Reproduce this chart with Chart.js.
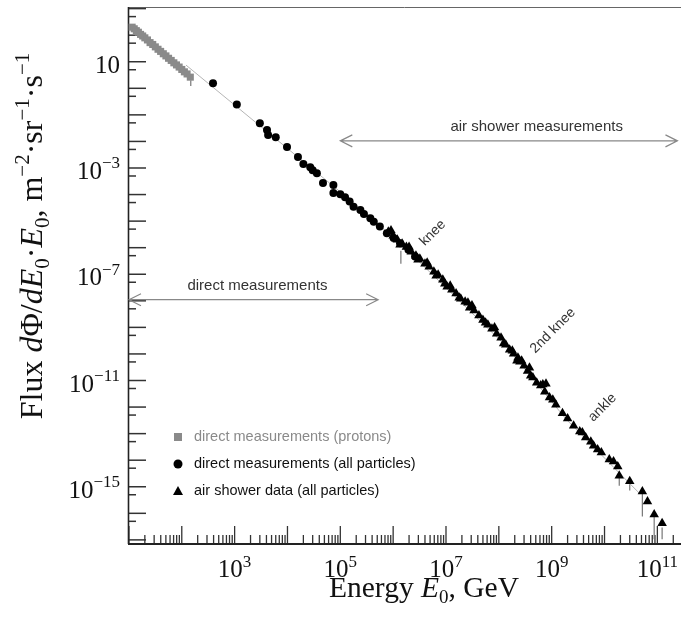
<!DOCTYPE html>
<html>
<head>
<meta charset="utf-8">
<script src="https://cdn.jsdelivr.net/npm/chart.js@4.4.1/dist/chart.umd.min.js"></script>
<style>
html, body { margin: 0; padding: 0; background: #fff; }
#wrap { width: 681px; height: 618px; }
</style>
</head>
<body>
<div id="wrap"><canvas id="fluxChart" width="681" height="618"></canvas></div>
<script>
// energy in GeV, flux in m^-2 sr^-1 s^-1
const protonE = [11.5, 12.6, 13.8, 15.1, 16.6, 18.2, 20, 22.4, 25.1, 28.2, 31.6, 35.5,
    39.8, 44.7, 50.1, 56.2, 63.1, 70.8, 79.4, 89.1, 100, 112, 126, 145];
const protonFlux = [200, 174, 148, 129, 107, 93.3, 79.4, 66.1, 52.5, 44.7, 36.3, 29.5,
    24.5, 20.0, 16.6, 13.5, 11.2, 9.12, 7.59, 6.31, 5.13, 4.17, 3.47, 2.63];

const directE = [390, 1.1e3, 3.0e3, 4.1e3, 4.3e3, 6.0e3, 9.8e3, 1.58e4, 2.0e4, 2.7e4,
    3.0e4, 3.6e4, 4.7e4, 7.4e4, 7.4e4, 1.0e5, 1.23e5, 1.5e5, 1.78e5, 2.4e5,
    2.8e5, 3.7e5, 4.3e5, 5.6e5, 7.6e5, 1.02e6, 1.35e6, 1.95e6, 2.6e6];
const directFlux = [1.55, 0.245, 4.8e-2, 2.7e-2, 1.74e-2, 1.45e-2, 6.2e-3, 2.6e-3, 1.41e-3, 1.07e-3,
    8.3e-4, 6.3e-4, 2.75e-4, 2.3e-4, 1.15e-4, 1.02e-4, 7.9e-5, 5.5e-5, 3.5e-5, 2.6e-5,
    1.86e-5, 1.29e-5, 9.5e-6, 6.3e-6, 3.5e-6, 2.3e-6, 1.48e-6, 8.3e-7, 4.7e-7];

const showerE = [8.1e5, 1.0e6, 1.2e6, 1.48e6, 1.78e6, 2.2e6, 2.7e6, 3.2e6, 4.0e6, 4.8e6,
    5.9e6, 7.1e6, 8.7e6, 1.05e7, 1.29e7, 1.55e7, 1.9e7, 2.3e7, 2.8e7, 3.4e7,
    4.2e7, 5.0e7, 6.2e7, 7.4e7, 9.1e7, 1.1e8, 1.35e8, 1.6e8, 1.9e8, 2.3e8,
    2.5e8, 3.0e8, 3.5e8, 4.4e8, 5.2e8, 6.2e8, 7.4e8, 9.1e8, 1.2e9, 1.6e9,
    2.0e9, 2.6e9, 3.4e9, 4.4e9, 5.5e9, 7.4e9, 8.7e9, 1.23e10, 1.78e10, 1.9e10,
    3.0e10, 5.2e10, 6.5e10, 8.7e10, 1.23e11,
    1.8e8, 2.2e8, 3.8e8, 7.8e8, 9.5e6, 2.6e7,
    9.1e5, 1.35e6, 2.0e6, 2.95e6, 4.4e6, 6.5e6, 1.2e7, 1.78e7, 3.1e7, 5.6e7,
    8.3e7, 1.23e8, 2.7e8, 4.0e8, 6.8e8, 1.05e9, 3.8e9, 6.2e9, 1.48e10];
const showerFlux = [4.0e-6, 2.8e-6, 2.0e-6, 1.4e-6, 1.07e-6, 7.1e-7, 5.0e-7, 3.8e-7, 2.5e-7, 1.9e-7,
    1.23e-7, 9.5e-8, 6.2e-8, 3.4e-8, 2.6e-8, 1.9e-8, 1.2e-8, 9.3e-9, 5.5e-9, 4.3e-9,
    2.8e-9, 1.9e-9, 1.26e-9, 8.9e-10, 5.8e-10, 4.1e-10, 2.2e-10, 1.45e-10, 1.02e-10, 7.2e-11,
    5.1e-11, 3.6e-11, 2.3e-11, 1.29e-11, 8.3e-12, 6.5e-12, 3.8e-12, 2.3e-12, 1.23e-12, 5.8e-13,
    3.7e-13, 2.0e-13, 1.2e-13, 7.1e-14, 5.0e-14, 2.5e-14, 1.95e-14, 1.07e-14, 5.8e-15, 2.6e-15,
    1.6e-15, 6.6e-16, 2.8e-16, 9.1e-17, 4.2e-17,
    1.32e-10, 5.6e-11, 3.0e-11, 7.6e-12, 4.4e-8, 8.5e-9,
    4.4e-6, 1.29e-6, 1.07e-6, 3.5e-7, 2.7e-7, 8.7e-8, 3.7e-8, 1.3e-8, 6.6e-9, 1.5e-9,
    9.8e-10, 2.45e-10, 5.6e-11, 1.5e-11, 7.1e-12, 1.9e-12, 1.1e-13, 3.5e-14, 8.9e-15];

// thin guide line through the spectrum
const fitE = [120, 1.0e5, 1.35e6, 1.3e8, 1.9e9, 4.6e10];
const fitFlux = [7.5, 1.26e-4, 1.48e-6, 2.2e-10, 3.4e-13, 5.6e-16];

// error bars
const errE = [148, 1.4e6, 1.9e10, 3.0e10, 5.2e10, 8.7e10, 1.23e11];
const errHigh = [2.0, 7.6e-7, 2.2e-15, 1.23e-15, 6.6e-16, 9.1e-17, 2.95e-17];
const errLow = [1.22, 2.5e-7, 1.1e-15, 7.2e-16, 7.6e-17, 1.05e-17, 1.05e-17];

// tick labels (powers of ten)
const xLabelExps = [3, 5, 7, 9, 11];
const yLabelExps = [1, -3, -7, -11, -15];

const legendItems = ['direct measurements (protons)', 'direct measurements (all particles)', 'air shower data (all particles)'];

const SERIF = '"Liberation Serif", "Times New Roman", serif';
const SANS = '"Liberation Sans", Arial, sans-serif';

function pts(xs, ys) {
    return xs.map((x, i) => ({x: x, y: ys[i]}));
}

const errData = [];
errE.forEach((e, i) => {
    errData.push({x: e, y: errHigh[i]}, {x: e, y: errLow[i]}, {x: e, y: null});
});

// text with italic / sub / sup pieces
function richText(ctx, parts, x, y, size, align) {
    const fonts = parts.map(p => {
        const s = (p[1] === 'sub' || p[1] === 'sup') ? Math.round(size * 0.66) : size;
        const it = p[1] === 'i' ? 'italic ' : '';
        return it + s + 'px ' + SERIF;
    });
    let total = 0;
    const widths = parts.map((p, i) => {
        ctx.font = fonts[i];
        const w = ctx.measureText(p[0]).width;
        total += w;
        return w;
    });
    let cx = align === 'center' ? x - total / 2 : (align === 'right' ? x - total : x);
    ctx.textAlign = 'left';
    ctx.textBaseline = 'alphabetic';
    parts.forEach((p, i) => {
        ctx.font = fonts[i];
        let dy = 0;
        if (p[1] === 'sup') dy = -size * 0.42;
        if (p[1] === 'sub') dy = size * 0.22;
        ctx.fillText(p[0], cx, y + dy);
        cx += widths[i];
    });
}

function powLabel(exp) {
    if (exp === 1) return [['10', '']];
    const e = exp < 0 ? '\u2212' + (-exp) : String(exp);
    return [['10', ''], [e, 'sup']];
}

function doubleArrow(ctx, x1, x2, y) {
    ctx.beginPath();
    ctx.moveTo(x1, y);
    ctx.lineTo(x2, y);
    ctx.moveTo(x1 + 12, y - 6);
    ctx.lineTo(x1, y);
    ctx.lineTo(x1 + 12, y + 6);
    ctx.moveTo(x2 - 12, y - 6);
    ctx.lineTo(x2, y);
    ctx.lineTo(x2 - 12, y + 6);
    ctx.stroke();
}

const framePlugin = {
    id: 'frame',
    beforeDatasetsDraw(chart) {
        const {ctx, chartArea: a, scales: {x, y}} = chart;
        ctx.save();
        ctx.strokeStyle = '#666';
        ctx.lineWidth = 1;
        ctx.beginPath();
        ctx.moveTo(a.left, a.top + 0.5);
        ctx.lineTo(a.right, a.top + 0.5);
        ctx.stroke();

        ctx.strokeStyle = '#333';
        ctx.lineWidth = 1.5;
        // y ticks: decades and 5x below
        for (let k = -18; k <= 4; k++) {
            const py = y.getPixelForValue(Math.pow(10, k));
            if (py >= a.top && py <= a.bottom) {
                ctx.beginPath();
                ctx.moveTo(a.left, py);
                ctx.lineTo(a.left + 18, py);
                ctx.stroke();
            }
            const pm = y.getPixelForValue(0.5 * Math.pow(10, k));
            if (pm >= a.top && pm <= a.bottom) {
                ctx.beginPath();
                ctx.moveTo(a.left, pm);
                ctx.lineTo(a.left + 8, pm);
                ctx.stroke();
            }
        }
        // x ticks
        ctx.lineWidth = 1.3;
        for (let k = 0; k <= 12; k++) {
            for (let m = 1; m <= 9; m++) {
                const px = x.getPixelForValue(m * Math.pow(10, k));
                if (px < a.left || px > a.right) continue;
                const len = m === 1 ? 18 : 9;
                ctx.beginPath();
                ctx.moveTo(px, a.bottom);
                ctx.lineTo(px, a.bottom - len);
                ctx.stroke();
            }
        }
        // axis lines
        ctx.strokeStyle = '#222';
        ctx.lineWidth = 1.6;
        ctx.beginPath();
        ctx.moveTo(a.left + 0.5, a.top);
        ctx.lineTo(a.left + 0.5, a.bottom);
        ctx.stroke();
        ctx.lineWidth = 2;
        ctx.beginPath();
        ctx.moveTo(a.left, a.bottom);
        ctx.lineTo(a.right, a.bottom);
        ctx.stroke();
        ctx.restore();
    },
    afterDatasetsDraw(chart) {
        const {ctx, chartArea: a, scales: {x, y}} = chart;
        ctx.save();

        // arrows with captions
        ctx.strokeStyle = '#888';
        ctx.lineWidth = 1.2;
        const yAir = y.getPixelForValue(1.05e-2);
        doubleArrow(ctx, x.getPixelForValue(1.0e5), x.getPixelForValue(2.4e11), yAir);
        const yDir = y.getPixelForValue(1.1e-8);
        doubleArrow(ctx, a.left + 1, x.getPixelForValue(5.2e5), yDir);

        ctx.fillStyle = '#333';
        ctx.font = '15px ' + SANS;
        ctx.textAlign = 'center';
        ctx.textBaseline = 'middle';
        ctx.fillText('air shower measurements', x.getPixelForValue(5.2e8), yAir - 14);
        ctx.fillText('direct measurements', x.getPixelForValue(2.7e3), yDir - 14);

        // rotated feature labels
        ctx.font = '14px ' + SANS;
        [['knee', 5.6e6, 3.6e-6], ['2nd knee', 1.05e9, 7.6e-10], ['ankle', 9.1e9, 9.5e-13]].forEach(n => {
            ctx.save();
            ctx.translate(x.getPixelForValue(n[1]), y.getPixelForValue(n[2]));
            ctx.rotate(-Math.PI / 4);
            ctx.fillText(n[0], 0, 0);
            ctx.restore();
        });

        // legend
        const lx = 178, ly = [437, 464, 491];
        ctx.fillStyle = '#8a8a8a';
        ctx.fillRect(lx - 4, ly[0] - 4, 8, 8);
        ctx.fillStyle = '#000';
        ctx.beginPath();
        ctx.arc(lx, ly[1], 4.5, 0, Math.PI * 2);
        ctx.fill();
        ctx.beginPath();
        ctx.moveTo(lx, ly[2] - 5);
        ctx.lineTo(lx + 5, ly[2] + 4);
        ctx.lineTo(lx - 5, ly[2] + 4);
        ctx.closePath();
        ctx.fill();
        ctx.textAlign = 'left';
        ctx.font = '14.5px ' + SANS;
        legendItems.forEach((t, i) => {
            ctx.fillStyle = i === 0 ? '#8a8a8a' : '#111';
            ctx.fillText(t, lx + 16, ly[i]);
        });

        // tick labels
        ctx.fillStyle = '#111';
        xLabelExps.forEach(e => {
            richText(ctx, powLabel(e), x.getPixelForValue(Math.pow(10, e)), 577, 25, 'center');
        });
        yLabelExps.forEach(e => {
            richText(ctx, powLabel(e), 120, y.getPixelForValue(Math.pow(10, e)) + 11, 25, 'right');
        });

        // axis titles
        richText(ctx, [['Energy ', ''], ['E', 'i'], ['0', 'sub'], [', GeV', '']], 424, 597, 29.5, 'center');
        ctx.translate(42, 236);
        ctx.rotate(-Math.PI / 2);
        richText(ctx, [['Flux ', ''], ['d', 'i'], ['\u03A6', ''], ['/', ''], ['dE', 'i'], ['0', 'sub'],
            ['\u00B7', ''], ['E', 'i'], ['0', 'sub'], [', m', ''], ['\u22122', 'sup'], ['\u00B7sr', ''],
            ['\u22121', 'sup'], ['\u00B7s', ''], ['\u22121', 'sup']], 0, 0, 32, 'center');
        ctx.restore();
    }
};

new Chart(document.getElementById('fluxChart'), {
    type: 'scatter',
    data: {
        datasets: [
            {
                type: 'line',
                data: pts(fitE, fitFlux),
                borderColor: '#b5b5b5',
                borderWidth: 1,
                pointRadius: 0,
                order: 5
            },
            {
                type: 'line',
                data: errData,
                borderColor: '#777',
                borderWidth: 1.2,
                pointRadius: 0,
                spanGaps: false,
                order: 4
            },
            {
                data: pts(protonE, protonFlux),
                pointStyle: 'rect',
                pointRadius: 5,
                backgroundColor: '#8a8a8a',
                borderWidth: 0,
                order: 3
            },
            {
                data: pts(directE, directFlux),
                pointStyle: 'circle',
                pointRadius: 4,
                backgroundColor: '#000',
                borderWidth: 0,
                order: 2
            },
            {
                data: pts(showerE, showerFlux),
                pointStyle: 'triangle',
                pointRadius: 5.5,
                backgroundColor: '#000',
                borderWidth: 0,
                order: 1
            }
        ]
    },
    options: {
        responsive: false,
        animation: false,
        devicePixelRatio: 1,
        layout: {
            autoPadding: false,
            padding: {top: 7, right: 0, bottom: 0, left: 0}
        },
        plugins: {
            legend: {display: false},
            tooltip: {enabled: false}
        },
        scales: {
            x: {
                type: 'logarithmic',
                min: 9.6,
                max: 2.8e11,
                grid: {display: false},
                border: {display: false},
                ticks: {display: false},
                afterFit(scale) { scale.height = 74; }
            },
            y: {
                type: 'logarithmic',
                min: 7.4e-18,
                max: 1.15e3,
                grid: {display: false},
                border: {display: false},
                ticks: {display: false},
                afterFit(scale) { scale.width = 128; }
            }
        }
    },
    plugins: [framePlugin]
});
</script>
</body>
</html>
